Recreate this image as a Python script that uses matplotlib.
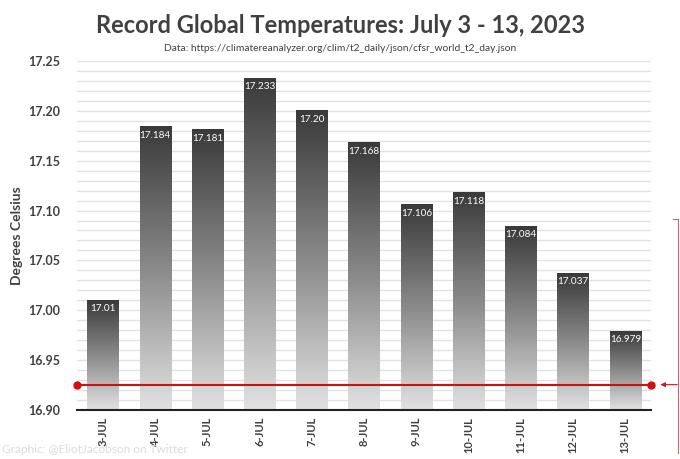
import numpy as np
import matplotlib
matplotlib.use("Agg")
import matplotlib.pyplot as plt
from matplotlib.colors import LinearSegmentedColormap

plt.rcParams['font.family'] = ['Lato', 'DejaVu Sans']

days = ['3-JUL', '4-JUL', '5-JUL', '6-JUL', '7-JUL', '8-JUL',
        '9-JUL', '10-JUL', '11-JUL', '12-JUL', '13-JUL']
temps = [17.01, 17.184, 17.181, 17.233, 17.20, 17.168,
         17.106, 17.118, 17.084, 17.037, 16.979]
labels = ['17.01', '17.184', '17.181', '17.233', '17.20', '17.168',
          '17.106', '17.118', '17.084', '17.037', '16.979']
prev_record = 16.925

ymin, ymax = 16.90, 17.25
bar_w = 0.6

fig = plt.figure(figsize=(6.8, 4.59), dpi=100)
ax = fig.add_axes([0.113, 0.107, 0.845, 0.76])

# grid every 0.01
for g in np.arange(ymin + 0.01, ymax + 0.001, 0.01):
    ax.axhline(g, color='#e2e2e2', lw=1.0, zorder=0)

# gradient bars
cmap = LinearSegmentedColormap.from_list('bar', ['#e2e2e2', '#8a8a8a', '#3a3a3a'])
grad = np.linspace(0, 1, 256).reshape(-1, 1)
for i, v in enumerate(temps):
    ax.imshow(grad, cmap=cmap, origin='lower', aspect='auto',
              extent=[i - bar_w / 2, i + bar_w / 2, ymin, v], zorder=2,
              interpolation='bilinear')
    ax.text(i, v - 0.0085, labels[i], color='white', ha='center', va='center',
            fontsize=7.2, zorder=4)

# previous record line
ax.plot([-0.5, 10.5], [prev_record, prev_record], color='#d01010', lw=1.5,
        zorder=5, clip_on=False)
ax.plot([-0.5, 10.5], [prev_record, prev_record], 'o', color='#d01010',
        ms=5, zorder=6, clip_on=False)

ax.set_xlim(-0.5, 10.5)
ax.set_ylim(ymin, ymax)
yt = np.arange(ymin, ymax + 0.001, 0.05)
ax.set_yticks(yt)
ax.set_yticklabels([f'{t:.2f}' for t in yt], fontsize=9, fontweight='bold', color='#404040')
ax.set_xticks(range(len(days)))
ax.set_xticklabels(days, rotation=90, fontsize=8, fontweight='bold', color='#404040')
ax.tick_params(axis='y', length=0, pad=12)
ax.tick_params(axis='x', length=0, pad=5)
for s in ['top', 'right', 'left']:
    ax.spines[s].set_visible(False)
ax.spines['bottom'].set_color('#222222')
ax.spines['bottom'].set_linewidth(1.5)
ax.spines['bottom'].set_zorder(7)

ax.set_ylabel('Degrees Celsius', fontsize=10, fontweight='bold', color='#404040', labelpad=4)

fig.text(0.5, 0.945, 'Record Global Temperatures: July 3 - 13, 2023', ha='center',
         va='center', fontsize=17, fontweight='bold', color='#404040')
fig.text(0.5, 0.895, 'Data: https://climatereanalyzer.org/clim/t2_daily/json/cfsr_world_t2_day.json',
         ha='center', va='center', fontsize=7.4, color='#404040')
fig.text(0.003, 0.02, 'Graphic: @EliotJacobson on Twitter', ha='left', va='center',
         fontsize=8.5, color='#dcdcdc')

# bracket at right edge with arrow
fig.add_artist(plt.Line2D([0.997, 0.997], [0.013, 0.522], color='#b07070', lw=0.8))
fig.add_artist(plt.Line2D([0.990, 0.997], [0.522, 0.522], color='#b07070', lw=0.8))
ax.annotate('', xy=(0.967, 0.162), xytext=(1.0, 0.162), xycoords='figure fraction',
            arrowprops=dict(arrowstyle='-|>', color='#c02020', lw=0.8, mutation_scale=7))

fig.savefig('out.png', dpi=100, facecolor='white')
